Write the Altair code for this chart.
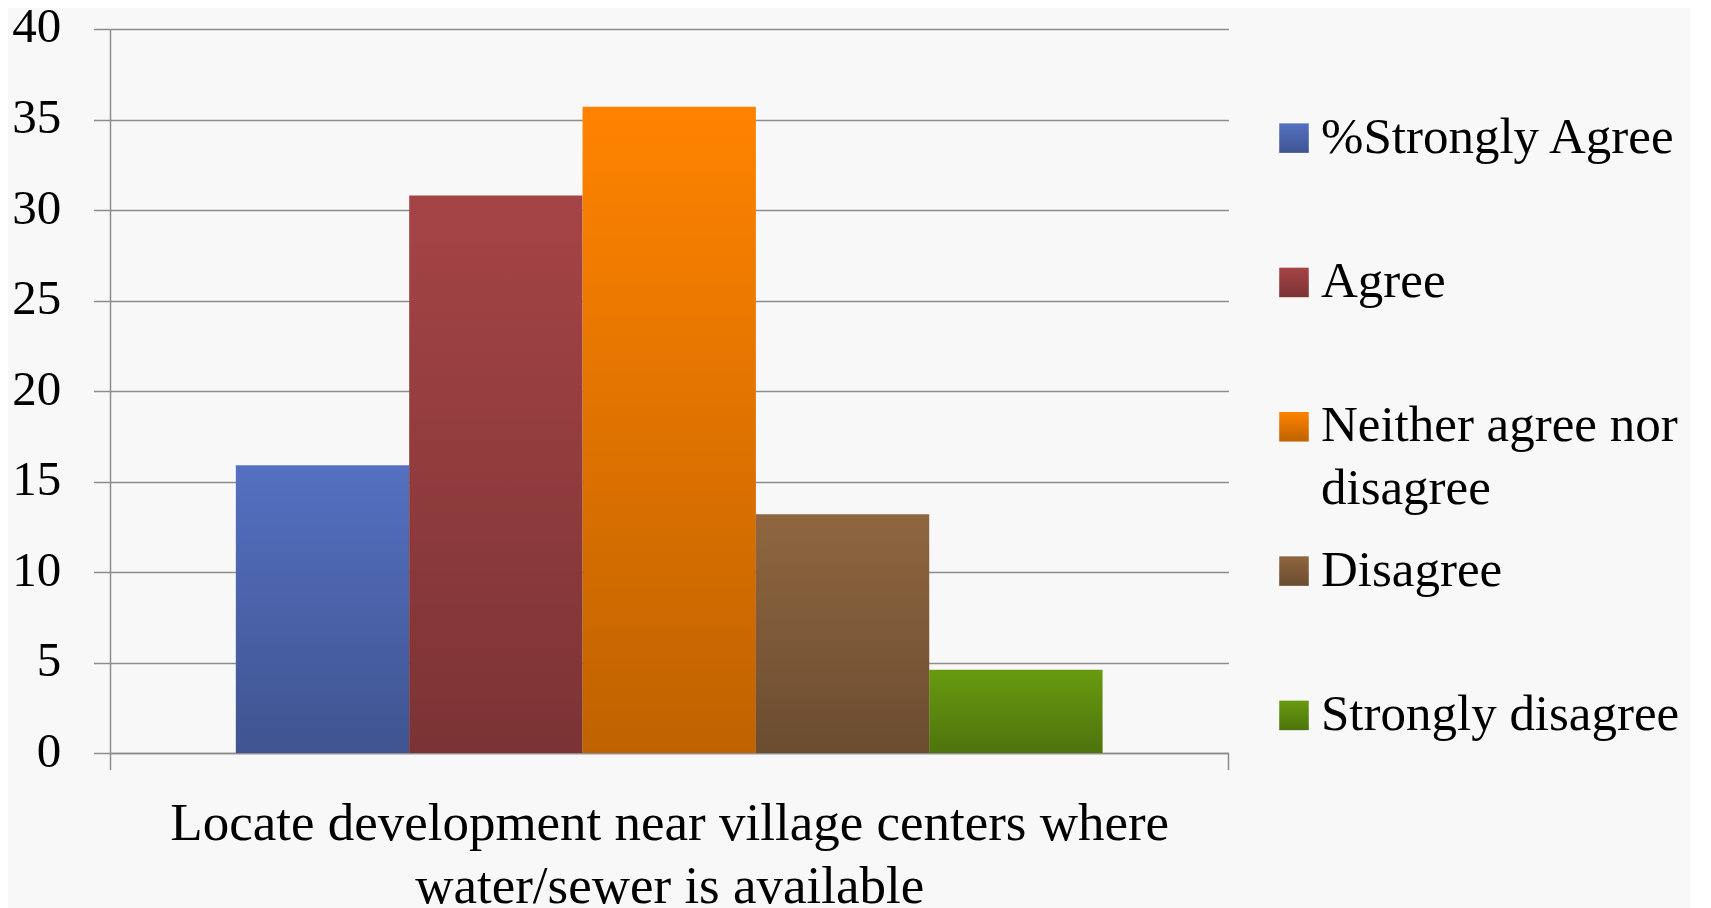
import altair as alt
import pandas as pd

# ---- data ----
category = ["Locate development near village centers where water/sewer is available"]
responses = ["%Strongly Agree", "Agree", "Neither agree nor disagree", "Disagree", "Strongly disagree"]
values = [15.9, 30.8, 35.7, 13.2, 4.6]
legend_text = ["%Strongly Agree", "Agree", "Neither agree nor|disagree", "Disagree", "Strongly disagree"]
bar_colors = ["#5470C0", "#A54446", "#FF8300", "#8F6640", "#689A10"]
y_ticks = [0, 5, 10, 15, 20, 25, 30, 35, 40]
x_title_lines = ["Locate development near village centers where", "water/sewer is available"]

FONT = "Liberation Serif"
GRID = "#8c8c8c"

df = pd.DataFrame({
    "category": category * len(responses),
    "response": responses,
    "value": values,
})
leg = pd.DataFrame({"response": responses, "label": legend_text})

color_scale = alt.Scale(domain=responses, range=bar_colors)

shade = alt.Gradient(
    gradient="linear", x1=0, x2=0, y1=0, y2=1,
    stops=[alt.GradientStop(color="rgba(0,0,0,0)", offset=0),
           alt.GradientStop(color="rgba(0,0,0,0.25)", offset=1)],
)

x_enc = alt.X(
    "category:N",
    scale=alt.Scale(paddingInner=0, paddingOuter=0),
    axis=alt.Axis(
        labels=False, tickBand="extent", ticks=True, tickSize=16.5,
        tickColor=GRID, tickWidth=1.5, domain=True, domainColor=GRID,
        domainWidth=1.5, grid=False, title=x_title_lines, titleFont=FONT,
        titleFontSize=53, titleFontWeight="normal", titleColor="black",
        titleLineHeight=63, titlePadding=27,
    ),
)
xo_enc = alt.XOffset(
    "response:N", sort=responses,
    scale=alt.Scale(paddingInner=0, paddingOuter=0.726),
)
y_enc = alt.Y(
    "value:Q",
    scale=alt.Scale(domain=[0, 40], nice=False),
    axis=alt.Axis(
        values=y_ticks, title=None, grid=True, gridColor=GRID, gridWidth=1.5,
        domain=True, domainColor=GRID, domainWidth=1.5, ticks=True,
        tickSize=16.5, tickColor=GRID, tickWidth=1.5, labelFont=FONT,
        labelFontSize=49, labelColor="black", labelPadding=32.7,
        labelOverlap=False, labelOffset=-2,
    ),
)

base = alt.Chart(df).encode(x=x_enc, xOffset=xo_enc, y=y_enc)
bars = base.mark_bar().encode(
    color=alt.Color("response:N", scale=color_scale, legend=None)
)
bars_shade = base.mark_bar(fill=shade)
main = alt.layer(bars, bars_shade).properties(width=1118.4, height=724.1)

# ---- legend drawn as its own small panel ----
ly = alt.Y(
    "response:N", sort=responses,
    scale=alt.Scale(domain=responses, range=[109.1, 686.4], type="point", padding=0),
    axis=None,
)
lbase = alt.Chart(leg).encode(y=ly)
sw = lbase.mark_square(size=870, opacity=1).encode(
    color=alt.Color("response:N", scale=color_scale, legend=None)
)
sw_shade = lbase.mark_square(size=870, opacity=1, fill=shade)
txt = lbase.mark_text(
    align="left", baseline="alphabetic", dx=27, dy=14.5, font=FONT,
    fontSize=51, lineBreak="|", lineHeight=63, color="black",
).encode(text="label:N")
legend_chart = alt.layer(sw, sw_shade, txt).properties(width=30, height=724.1)

chart = (
    alt.hconcat(main, legend_chart, spacing=50, bounds="flush")
    .properties(padding={"left": 3, "top": -6, "right": 10, "bottom": 0},
                background="#f8f8f8")
    .configure_view(stroke="transparent")
)

chart.save("out.html", embed_options={"renderer": "svg", "actions": False})
